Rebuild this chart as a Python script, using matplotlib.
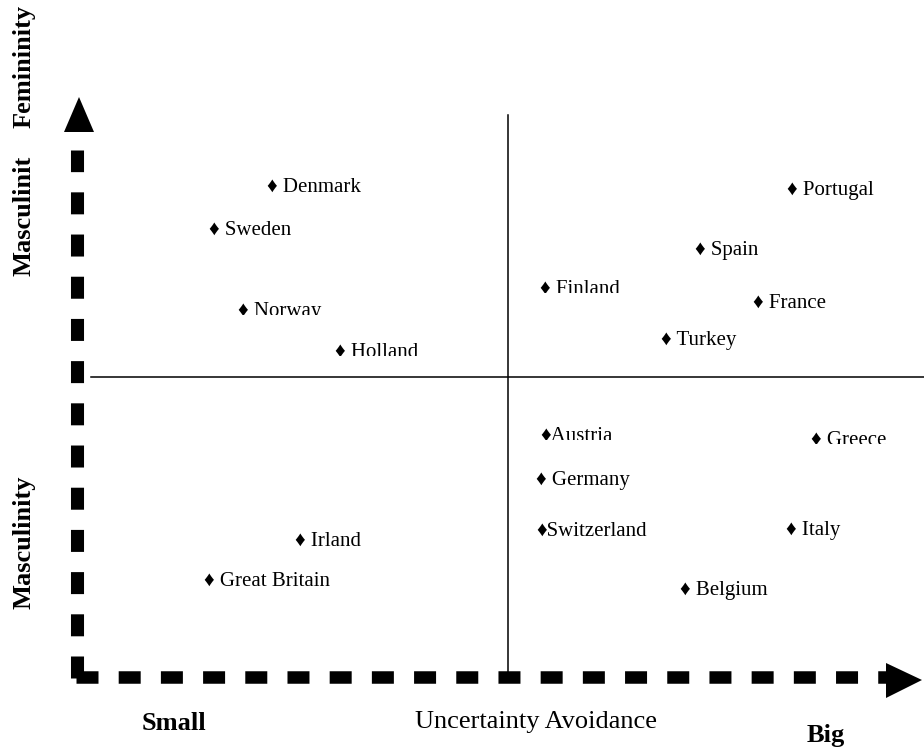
import matplotlib.pyplot as plt
from matplotlib.patches import Polygon
from matplotlib.transforms import Bbox, TransformedBbox

plt.rcParams['lines.scale_dashes'] = False
SERIF = ['Liberation Serif', 'DejaVu Serif']

# countries placed on the uncertainty avoidance / masculinity map
# (x = uncertainty avoidance, y = masculinity, both in picture units, y down)
countries = ['Denmark', 'Sweden', 'Norway', 'Holland',
             'Finland', 'Portugal', 'Spain', 'France', 'Turkey',
             'Austria', 'Greece', 'Germany', 'Switzerland', 'Italy',
             'Belgium', 'Irland', 'Great Britain']
uncertainty = [266.7, 209, 238, 335,
               540, 787, 695, 753, 661,
               540, 811, 536, 536, 786,
               680, 295, 204]
masculinity = [192, 235, 316, 357,
               294, 195, 254.5, 307.5, 345.5,
               440.5, 445, 484.5, 535.5, 535.5,
               595.5, 545.5, 585.5]
# labels that are cut off at the bottom in the original
cut_labels = ['Norway', 'Holland', 'Finland', 'Austria', 'Greece']
no_space = ['Austria', 'Switzerland']

fig = plt.figure(figsize=(9.24, 7.49), dpi=100)
ax = fig.add_axes([0, 0, 1, 1])
ax.set_xlim(0, 924)
ax.set_ylim(749, 0)
ax.axis('off')

# quadrant lines
ax.plot([507.5, 507.5], [115, 677], color='black', lw=1.1)
ax.plot([91, 924], [377, 377], color='black', lw=1.1)

# thick dashed axes
dash = (0, (22 / 1.389, 20.2 / 1.389))
ax.plot([76.5, 76.5], [678, 150], color='black', lw=9.4, linestyle=dash)
ax.plot([76, 887], [677, 677], color='black', lw=9.0, linestyle=dash)
ax.add_patch(Polygon([[64, 132], [94, 132], [79, 97]], closed=True,
                     color='black', lw=0))
ax.add_patch(Polygon([[886, 663], [886, 698], [922, 680]], closed=True,
                     color='black', lw=0))

for name, x, y in zip(countries, uncertainty, masculinity):
    sep = '' if name in no_space else ' '
    t = ax.text(x, y, '\u2666' + sep + name, family=SERIF, fontsize=15,
                ha='left', va='baseline')
    if name in cut_labels:
        box = Bbox([[0, 0], [924, y - 0.8]])
        t.set_clip_box(TransformedBbox(box, ax.transData))
        t.set_clip_on(True)

# axis titles
ax.text(24, 66, 'Femininity', family=SERIF, fontsize=19, fontweight='bold',
        rotation=90, ha='center', va='center')
ax.text(24, 216, 'Masculinit', family=SERIF, fontsize=19, fontweight='bold',
        rotation=90, ha='center', va='center')
ax.text(24, 542, 'Masculinity', family=SERIF, fontsize=19, fontweight='bold',
        rotation=90, ha='center', va='center')
ax.text(173.5, 730, 'Small', family=SERIF, fontsize=19, fontweight='bold',
        ha='center', va='baseline')
ax.text(536, 728, 'Uncertainty Avoidance', family=SERIF, fontsize=19,
        ha='center', va='baseline')
ax.text(826, 742, 'Big', family=SERIF, fontsize=19, fontweight='bold',
        ha='center', va='baseline')

fig.savefig('out.png', dpi=100)
